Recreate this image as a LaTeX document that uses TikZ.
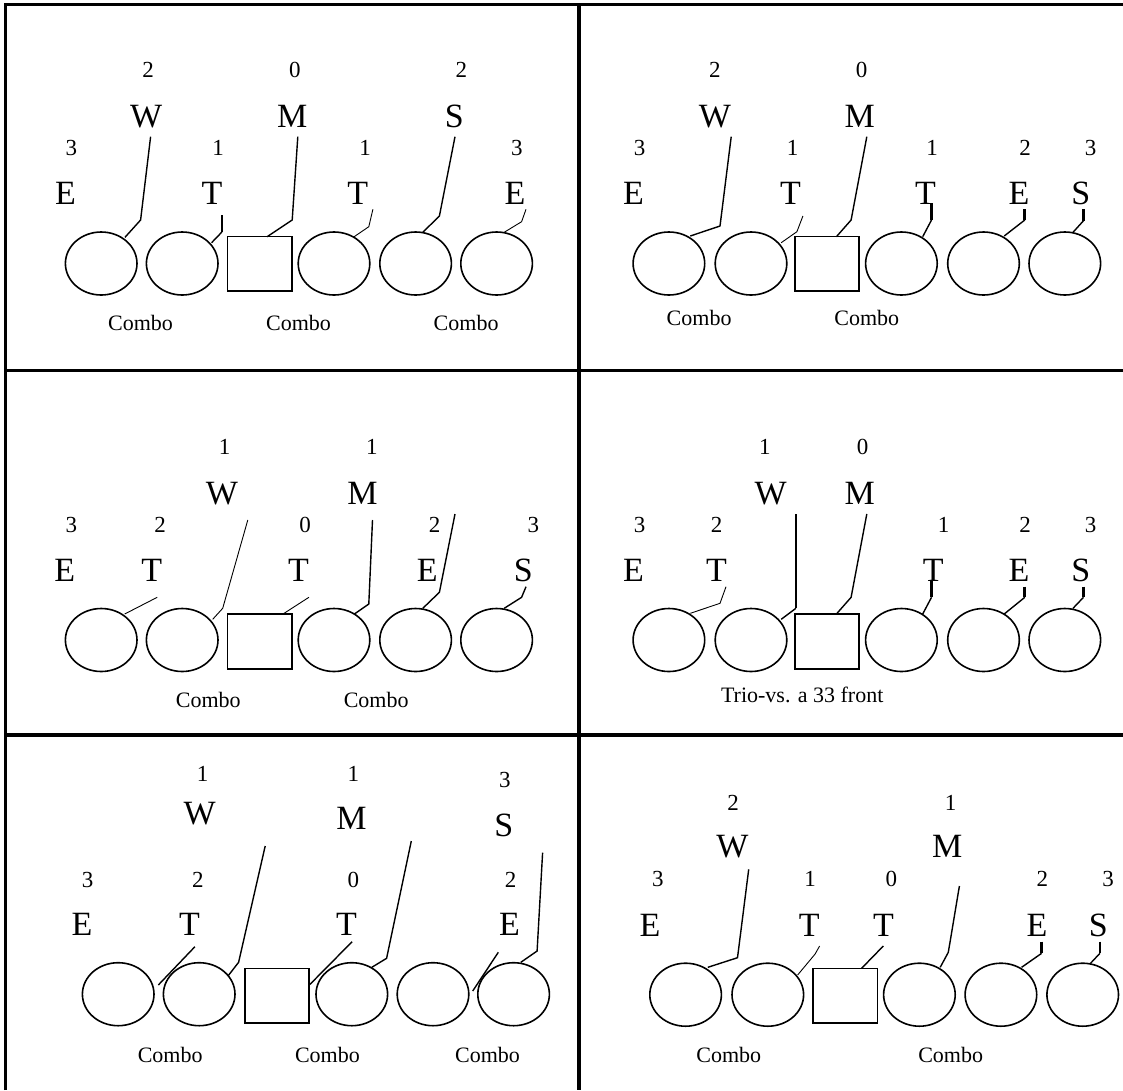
\documentclass[tikz,border=0pt]{standalone}
\usepackage{fontspec}
\setmainfont{Liberation Serif}
\usetikzlibrary{shapes.geometric}
\tikzset{
  letter/.style={inner sep=0pt, font=\fontsize{34}{34}\selectfont},
  digit/.style={inner sep=0pt, font=\fontsize{23}{23}\selectfont},
  lbl/.style={inner sep=0pt, font=\fontsize{22}{22}\selectfont},
  ell/.style={draw, ellipse, line width=1.6pt, minimum width=71.6pt, minimum height=63pt, inner sep=0pt},
  ctr/.style={draw, rectangle, line width=1.6pt, inner sep=0pt, minimum height=54.6pt},
  ln/.style={line width=1.4pt},
  thinln/.style={line width=0.9pt},
  stub/.style={line width=2.8pt},
  framel/.style={line width=3.5pt}
}
\begin{document}
\begin{tikzpicture}[x=1pt,y=-1pt]
\useasboundingbox (0,0) rectangle (1123,1090);
% frame
\draw[framel] (5.5,1090) -- (5.5,4.5) -- (1123,4.5);
\draw[framel] (579,4.5) -- (579,1090);
\draw[framel] (5.5,370.7) -- (1123,370.7);
\draw[framel] (5.5,735) -- (1123,735);

% ---------- Panel 1 ----------
\node[digit] (a-n1) at (148,70) {2};
\node[digit] (a-n2) at (294.8,70) {0};
\node[digit] (a-n3) at (461.3,70) {2};
\node[digit] (a-n4) at (71.4,148) {3};
\node[digit] (a-n5) at (218.2,148) {1};
\node[digit] (a-n6) at (365.1,148) {1};
\node[digit] (a-n7) at (516.8,148) {3};
\node[letter] (a-W) at (146.1,116.7) {W};
\node[letter] (a-M) at (292.2,116.7) {M};
\node[letter] (a-S) at (454.2,116.7) {S};
\node[letter] (a-E1) at (65.5,193) {E};
\node[letter] (a-T1) at (212,193) {T};
\node[letter] (a-T2) at (357.7,193) {T};
\node[letter] (a-E2) at (514.9,193) {E};
\node[ell] (a-o1) at (101.2,263.5) {};
\node[ell] (a-o2) at (182.2,263.5) {};
\node[ctr, minimum width=64.7pt] (a-c) at (259.9,263.9) {};
\node[ell] (a-o3) at (334,263.5) {};
\node[ell] (a-o4) at (415.6,263.5) {};
\node[ell] (a-o5) at (496.6,263.5) {};
\node[lbl] (a-l1) at (140.6,323) {Combo};
\node[lbl] (a-l2) at (298.5,323) {Combo};
\node[lbl] (a-l3) at (466.1,323) {Combo};
\draw[ln] (150.6,136.7) -- (140.6,220) -- (125,237.3);
\draw[stub] (221.9,215) -- (221.9,232);
\draw[ln] (221.9,232) -- (211.6,242.7);
\draw[ln] (297.8,136.7) -- (292.2,220) -- (267.1,236.7);
\draw[thinln] (372.9,209.3) -- (368.8,226.7) -- (353.3,237.3);
\draw[ln] (455,136.7) -- (439.4,216) -- (422.8,232.3);
\draw[thinln] (526,209.3) -- (521.6,221.7) -- (504.2,232.3);

% ---------- Panel 2 ----------
\node[digit] (b-n1) at (714.8,70) {2};
\node[digit] (b-n2) at (861.6,70) {0};
\node[digit] (b-n3) at (639.7,148) {3};
\node[digit] (b-n4) at (792.7,148) {1};
\node[digit] (b-n5) at (932.2,148) {1};
\node[digit] (b-n6) at (1025.1,148) {2};
\node[digit] (b-n7) at (1090.5,148) {3};
\node[letter] (b-W) at (714.8,116.7) {W};
\node[letter] (b-M) at (859.8,116.7) {M};
\node[letter] (b-E1) at (633.4,193) {E};
\node[letter] (b-T1) at (790.6,193) {T};
\node[letter] (b-T2) at (925.5,193) {T};
\node[letter] (b-E2) at (1018.9,193) {E};
\node[letter] (b-S) at (1080.7,193) {S};
\node[ell] (b-o1) at (668.9,263.5) {};
\node[ell] (b-o2) at (751,263.5) {};
\node[ctr, minimum width=63.6pt] (b-c) at (827,263.9) {};
\node[ell] (b-o3) at (901.4,263.5) {};
\node[ell] (b-o4) at (983.5,263.5) {};
\node[ell] (b-o5) at (1064.8,263.5) {};
\node[lbl] (b-l1) at (699.1,318.3) {Combo};
\node[lbl] (b-l2) at (866.8,318.3) {Combo};
\draw[ln] (731.2,136.7) -- (720,226) -- (690.3,236);
\draw[thinln] (802.9,216) -- (796.9,231.7) -- (781.2,242.7);
\draw[ln] (866.8,136.7) -- (851.1,220) -- (836.4,236.7);
\draw[stub] (931.5,203.3) -- (931.5,220);
\draw[ln] (931.5,220) -- (922.7,236.7);
\draw[stub] (1024.8,209.3) -- (1024.8,220);
\draw[ln] (1024.8,220) -- (1004.2,236);
\draw[stub] (1083.5,209.3) -- (1083.5,220.7);
\draw[ln] (1083.5,220.7) -- (1073,232.3);

% ---------- Panel 3 ----------
\node[digit] (c-n1) at (224.5,447.3) {1};
\node[digit] (c-n2) at (371.8,447.3) {1};
\node[digit] (c-n3) at (71.4,525) {3};
\node[digit] (c-n4) at (160.2,525) {2};
\node[digit] (c-n5) at (305.2,525) {0};
\node[digit] (c-n6) at (434.6,525) {2};
\node[digit] (c-n7) at (533.4,525) {3};
\node[letter] (c-W) at (221.9,493.3) {W};
\node[letter] (c-M) at (362.5,493.3) {M};
\node[letter] (c-E1) at (64.7,570) {E};
\node[letter] (c-T1) at (151.7,570) {T};
\node[letter] (c-T2) at (298.5,570) {T};
\node[letter] (c-E2) at (427.2,570) {E};
\node[letter] (c-S) at (523.4,570) {S};
\node[ell] (c-o1) at (101.2,640) {};
\node[ell] (c-o2) at (182.2,640) {};
\node[ctr, minimum width=64.7pt] (c-c) at (259.9,641.5) {};
\node[ell] (c-o3) at (334,640) {};
\node[ell] (c-o4) at (415.6,640) {};
\node[ell] (c-o5) at (496.6,640) {};
\node[lbl] (c-l1) at (208.3,700) {Combo};
\node[lbl] (c-l2) at (376.2,700) {Combo};
\draw[thinln] (157.2,597.3) -- (124.7,614);
\draw[thinln] (247.8,520) -- (222.7,608.3) -- (212.7,619.3);
\draw[thinln] (308.9,597.3) -- (283,614);
\draw[ln] (372.5,520) -- (368.8,604) -- (354.4,614);
\draw[ln] (455,514) -- (439.4,592.3) -- (422.8,608.3);
\draw[ln] (526,586.7) -- (521.6,597.3) -- (504.2,608.3);

% ---------- Panel 4 ----------
\node[digit] (d-n1) at (764.8,447.3) {1};
\node[digit] (d-n2) at (862.6,447.3) {0};
\node[digit] (d-n3) at (639.7,525) {3};
\node[digit] (d-n4) at (716.5,525) {2};
\node[digit] (d-n5) at (943.7,525) {1};
\node[digit] (d-n6) at (1025.1,525) {2};
\node[digit] (d-n7) at (1090.5,525) {3};
\node[letter] (d-W) at (770.7,493.3) {W};
\node[letter] (d-M) at (859.8,493.3) {M};
\node[letter] (d-E1) at (633.4,570) {E};
\node[letter] (d-T1) at (716.5,570) {T};
\node[letter] (d-T2) at (933.2,570) {T};
\node[letter] (d-E2) at (1018.9,570) {E};
\node[letter] (d-S) at (1080.7,570) {S};
\node[ell] (d-o1) at (668.9,640) {};
\node[ell] (d-o2) at (751,640) {};
\node[ctr, minimum width=63.6pt] (d-c) at (827,641.5) {};
\node[ell] (d-o3) at (901.4,640) {};
\node[ell] (d-o4) at (983.5,640) {};
\node[ell] (d-o5) at (1064.8,640) {};
\node[lbl] (d-l1) at (802.2,695) {Trio-vs. a 33 front};
\draw[thinln] (726,586.7) -- (720,603.3) -- (690.3,613.3);
\draw[stub] (795.9,514) -- (795.9,608.3);
\draw[ln] (795.9,608.3) -- (781.2,619.3);
\draw[ln] (866.8,514) -- (851.1,597.3) -- (836.4,614);
\draw[stub] (931.5,580.7) -- (931.5,597.3);
\draw[ln] (931.5,597.3) -- (922.7,614);
\draw[stub] (1024.8,586.7) -- (1024.8,597.3);
\draw[ln] (1024.8,597.3) -- (1004.2,614);
\draw[stub] (1083.5,586.7) -- (1083.5,597.3);
\draw[ln] (1083.5,597.3) -- (1073,608.3);

% ---------- Panel 5 ----------
\node[digit] (e-n1) at (202.7,774.3) {1};
\node[digit] (e-n2) at (353.3,774.3) {1};
\node[digit] (e-n3) at (504.9,780) {3};
\node[digit] (e-n4) at (87.7,880) {3};
\node[digit] (e-n5) at (197.9,880) {2};
\node[digit] (e-n6) at (353.3,880) {0};
\node[digit] (e-n7) at (510.5,880) {2};
\node[letter] (e-W) at (199.7,813.3) {W};
\node[letter] (e-M) at (351.4,818.3) {M};
\node[letter] (e-S) at (503.8,825) {S};
\node[letter] (e-E1) at (82.1,924.3) {E};
\node[letter] (e-T1) at (189.4,924.3) {T};
\node[letter] (e-T2) at (346.6,924.3) {T};
\node[letter] (e-E2) at (509.4,924.3) {E};
\node[ell] (e-o1) at (118.2,994.2) {};
\node[ell] (e-o2) at (199.2,994.2) {};
\node[ctr, minimum width=64pt] (e-c) at (276.9,995.8) {};
\node[ell] (e-o3) at (351.8,994.2) {};
\node[ell] (e-o4) at (433,994.2) {};
\node[ell] (e-o5) at (513.6,994.2) {};
\node[lbl] (e-l1) at (170.2,1055) {Combo};
\node[lbl] (e-l2) at (327.4,1055) {Combo};
\node[lbl] (e-l3) at (487.5,1055) {Combo};
\draw[ln] (194.9,946.7) -- (158.3,985);
\draw[ln] (265.2,846) -- (238.6,962.3) -- (228.2,975.7);
\draw[ln] (352.1,941.7) -- (310,984.3);
\draw[ln] (411.3,841) -- (386.6,958.3) -- (371.8,967.3);
\draw[ln] (498.3,952.3) -- (472.7,991);
\draw[ln] (542.6,852.7) -- (537.1,951) -- (520.8,962.3);

% ---------- Panel 6 ----------
\node[digit] (f-n1) at (733,802.7) {2};
\node[digit] (f-n2) at (950.7,802.7) {1};
\node[digit] (f-n3) at (657.8,879.3) {3};
\node[digit] (f-n4) at (810.2,879.3) {1};
\node[digit] (f-n5) at (891.3,879.3) {0};
\node[digit] (f-n6) at (1042.3,879.3) {2};
\node[digit] (f-n7) at (1108,879.3) {3};
\node[letter] (f-W) at (732.3,846.7) {W};
\node[letter] (f-M) at (947.2,846.7) {M};
\node[letter] (f-E1) at (650.1,925) {E};
\node[letter] (f-T1) at (809.2,925) {T};
\node[letter] (f-T2) at (883.6,925) {T};
\node[letter] (f-E2) at (1037,925) {E};
\node[letter] (f-S) at (1098.2,925) {S};
\node[ell] (f-o1) at (685.6,994.7) {};
\node[ell] (f-o2) at (767.8,994.7) {};
\node[ctr, minimum width=64.6pt] (f-c) at (845,995.8) {};
\node[ell] (f-o3) at (919.4,994.7) {};
\node[ell] (f-o4) at (1000.9,994.7) {};
\node[ell] (f-o5) at (1082.7,994.7) {};
\node[lbl] (f-l1) at (728.8,1055) {Combo};
\node[lbl] (f-l2) at (950.7,1055) {Combo};
\draw[ln] (748.7,869.3) -- (737.5,957.7) -- (707.8,967.3);
\draw[thinln] (819.6,946) -- (815.1,954) -- (797.6,975);
\draw[ln] (883.3,946) -- (861.6,968.3);
\draw[ln] (959.4,886) -- (948.3,952.3) -- (940.2,967.3);
\draw[stub] (1041.6,941.7) -- (1041.6,953.3);
\draw[ln] (1041.6,953.3) -- (1021.6,967.3);
\draw[stub] (1099.9,941.7) -- (1099.9,953.3);
\draw[ln] (1099.9,953.3) -- (1090.5,963.3);
\end{tikzpicture}
\end{document}
